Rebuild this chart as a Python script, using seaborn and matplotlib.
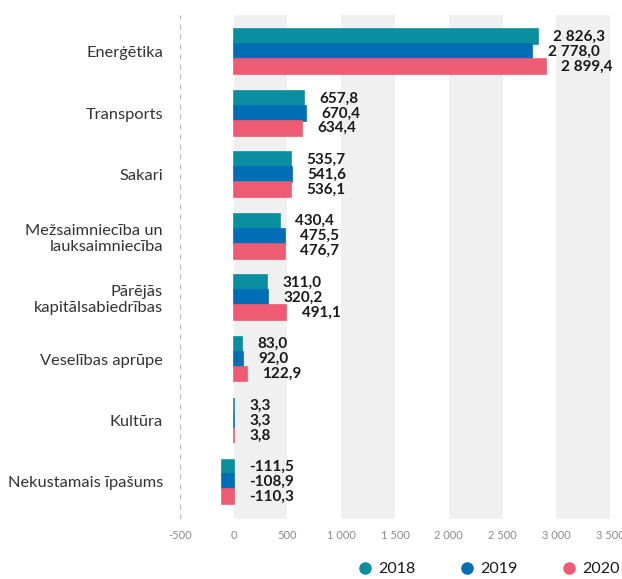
import pandas as pd
import matplotlib.pyplot as plt
import seaborn as sns
from matplotlib.lines import Line2D
from matplotlib.ticker import FuncFormatter

# Data
categories = ['Enerģētika', 'Transports', 'Sakari', 'Mežsaimniecība un\nlauksaimniecība',
              'Pārējās\nkapitālsabiedrības', 'Veselības aprūpe', 'Kultūra',
              'Nekustamais īpašums']
years = ['2018', '2019', '2020']
values_2018 = [2826.3, 657.8, 535.7, 430.4, 311.0, 83.0, 3.3, -111.5]
values_2019 = [2778.0, 670.4, 541.6, 475.5, 320.2, 92.0, 3.3, -108.9]
values_2020 = [2899.4, 634.4, 536.1, 476.7, 491.1, 122.9, 3.8, -110.3]
colors = ['#0a8fa0', '#006db7', '#ef5b72']

df = pd.DataFrame({
    'Nozare': categories * 3,
    'Gads': [y for y in years for _ in categories],
    'Vertiba': values_2018 + values_2019 + values_2020,
})


def fmt_num(v, decimals=1):
    s = f'{v:,.{decimals}f}'
    return s.replace(',', ' ').replace('.', ',')


sns.set_style('white')
plt.rcParams['font.family'] = ['Lato', 'DejaVu Sans']

fig = plt.figure(figsize=(6.22, 5.79), dpi=100)
ax = fig.add_axes([0.289, 0.104, 0.692, 0.870])

# alternating background bands
for start in [0, 1000, 2000, 3000]:
    ax.axvspan(start, start + 500, color='#f0f0f0', zorder=0, lw=0)
ax.axvline(-500, color='#bbbbbb', ls=(0, (4, 4)), lw=0.9, zorder=1)

sns.barplot(data=df, x='Vertiba', y='Nozare', hue='Gads', orient='h',
            palette=colors, width=0.73, saturation=1, ax=ax, legend=False,
            linewidth=1.2, zorder=2)

# value labels (edge in bar colour so tiny bars stay visible)
for cont in ax.containers:
    for bar in cont:
        bar.set_edgecolor(bar.get_facecolor())
        w = bar.get_width()
        yc = bar.get_y() + bar.get_height() / 2
        ax.annotate(fmt_num(w), xy=(max(w, 0), yc), xytext=(11, 0),
                    textcoords='offset points', ha='left', va='center',
                    fontsize=11, fontweight='bold', color='#1a1a1a')

ax.set_xlim(-500, 3500)
ax.set_ylim(7.6, -0.6)
ax.set_xticks(range(-500, 3501, 500))
ax.xaxis.set_major_formatter(FuncFormatter(lambda v, p: fmt_num(v, 0)))
ax.tick_params(axis='x', labelsize=8, labelcolor='#8a8a8a', length=0, pad=8)
ax.tick_params(axis='y', labelsize=11.75, labelcolor='#333333', length=0, pad=12)
ax.set_xlabel('')
ax.set_ylabel('')
for s in ax.spines.values():
    s.set_visible(False)

handles = [Line2D([], [], marker='o', ls='', color=c, markersize=8) for c in colors]
fig.legend(handles, years, loc='lower right', bbox_to_anchor=(0.997, 0.005),
           ncol=3, frameon=False, fontsize=11.5, handlelength=1.0,
           handletextpad=0.35, columnspacing=2.7, borderpad=0,
           borderaxespad=0, labelcolor='#1a1a1a')

plt.savefig('out.png', dpi=100)
